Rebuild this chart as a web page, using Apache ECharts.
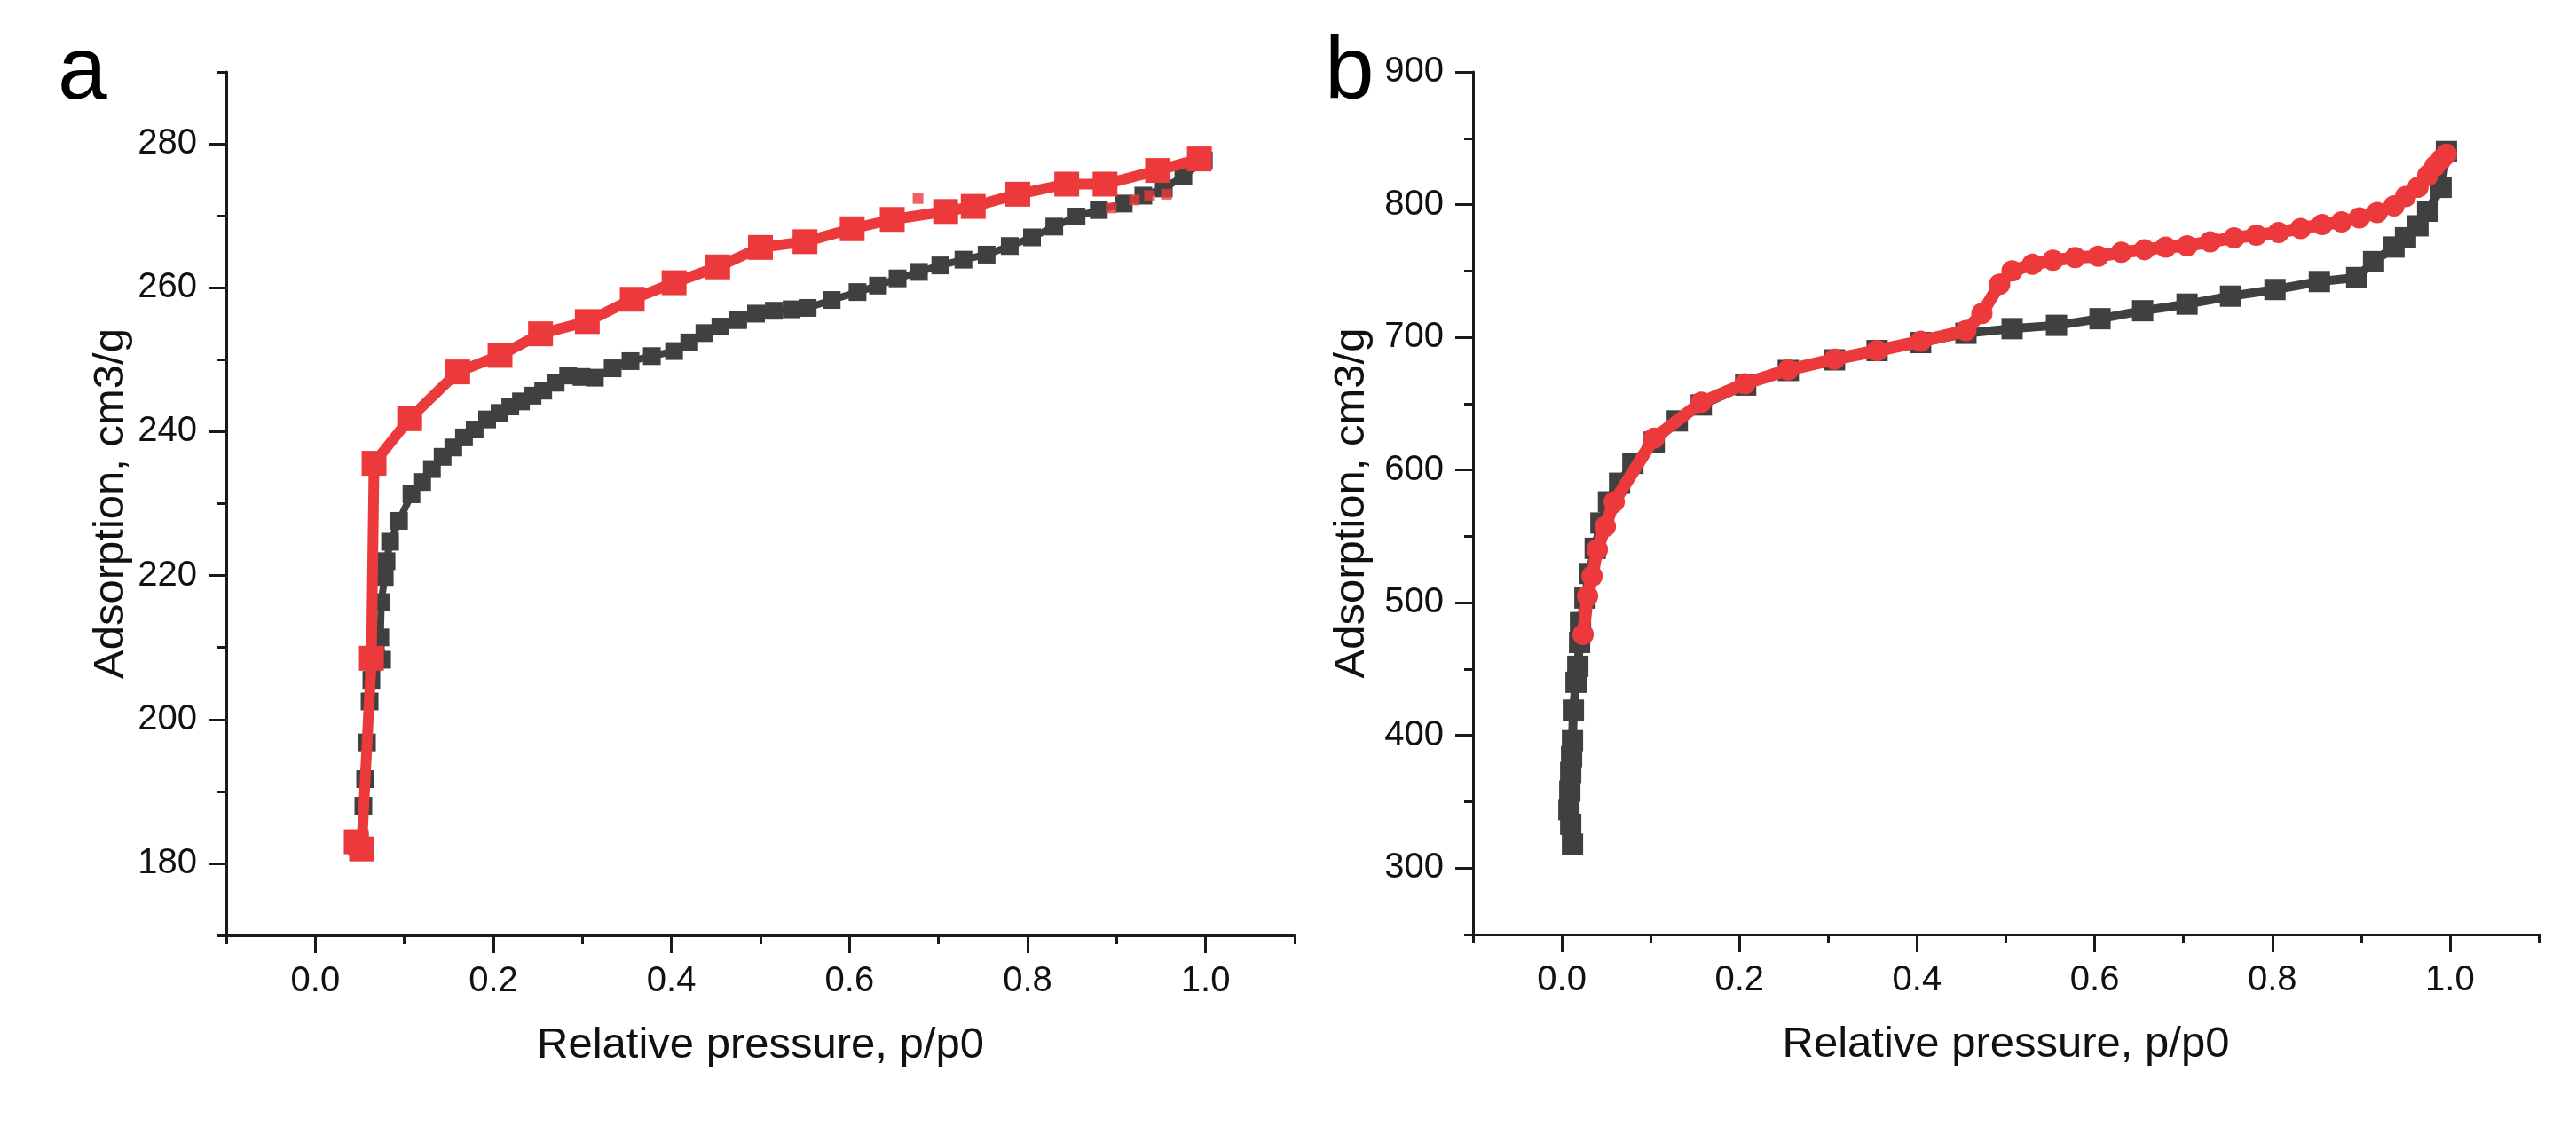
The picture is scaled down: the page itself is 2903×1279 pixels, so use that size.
<!DOCTYPE html>
<html>
<head>
<meta charset="utf-8">
<script src="https://cdn.jsdelivr.net/npm/echarts@6/dist/echarts.min.js"></script>
<style>
html,body{margin:0;padding:0;background:#fff;}
#c{width:2903px;height:1279px;}
</style>
</head>
<body>
<div id="c"></div>
<script>
// ---- data (x = relative pressure p/p0, y = adsorption cm3/g) ----
const grayA = [
[0.047,182.3],[0.050,183.0],[0.054,188],[0.056,191.7],[0.058,196.8],[0.061,202.5],[0.063,205.5],
[0.075,208.3],[0.073,211.4],[0.074,216.3],[0.078,219.8],[0.080,222],[0.084,224.7],[0.094,227.6],
[0.108,231.3],[0.120,233],[0.131,234.8],[0.143,236.5],[0.155,237.8],[0.167,239.2],[0.179,240.3],
[0.193,241.7],[0.207,242.6],[0.219,243.5],[0.231,244.2],[0.244,245],[0.256,245.7],[0.270,246.8],
[0.284,247.8],[0.299,247.6],[0.314,247.5],[0.334,248.8],[0.354,249.8],[0.378,250.5],[0.403,251.2],
[0.420,252.4],[0.437,253.7],[0.455,254.6],[0.475,255.5],[0.495,256.4],[0.515,256.8],[0.535,257],
[0.553,257.2],[0.580,258.3],[0.609,259.4],[0.632,260.3],[0.654,261.3],[0.678,262.2],[0.702,263.1],
[0.728,263.9],[0.754,264.6],[0.780,265.8],[0.805,267],[0.830,268.5],[0.855,269.9],[0.880,270.8],
[0.908,271.7],[0.930,272.8],[0.953,273.8],[0.975,275.5],[0.998,277.7]
];
const redA = [
[0.993,277.9],[0.946,276.3],[0.887,274.4],[0.844,274.4],[0.789,273.0],[0.739,271.3],[0.708,270.6],
[0.648,269.5],[0.603,268.2],[0.550,266.4],[0.500,265.6],[0.452,262.9],[0.403,260.7],[0.356,258.4],
[0.3055,255.3],[0.253,253.6],[0.2075,250.6],[0.160,248.3],[0.106,241.8],[0.066,235.6],[0.063,208.5],
[0.052,182.0],[0.046,183.0]
];
const redDotsA = [[0.677,272.4],[0.894,271.1],[0.920,272.2],[0.937,272.8],[0.956,273.0]];

const grayB = [
[0.012,318],[0.010,333],[0.008,344],[0.009,358],[0.010,372],[0.011,384],[0.012,396],[0.013,419],
[0.016,440],[0.018,452],[0.020,470],[0.021,485],[0.026,503.5],[0.031,522],[0.0376,541],[0.044,560],
[0.0526,576],[0.065,590],[0.080,605],[0.104,621],[0.130,637],[0.157,649],[0.207,664],[0.255,675],
[0.307,683],[0.355,690],[0.404,696],[0.455,703],[0.507,706.5],[0.557,709],[0.606,714],[0.654,720],
[0.704,725],[0.753,731],[0.803,736],[0.853,742],[0.895,745],[0.914,757],[0.937,768],[0.950,775],
[0.964,784],[0.975,795],[0.990,813],[0.996,840]
];
const redB = [
[0.996,838],[0.990,834],[0.983,829],[0.975,822],[0.964,813],[0.950,806],[0.937,799],[0.918,794],
[0.898,790],[0.878,787],[0.856,785],[0.832,782],[0.807,779],[0.782,777],[0.757,775],[0.730,772],
[0.704,769],[0.680,768],[0.656,766],[0.630,764],[0.604,761],[0.578,760],[0.553,758],[0.530,755],
[0.507,750],[0.493,740],[0.473,718],[0.455,705],[0.404,697],[0.355,690],[0.307,683.5],[0.255,675.5],
[0.206,665],[0.157,651],[0.104,624],[0.059,576],[0.049,557.5],[0.040,540],[0.034,520],[0.029,505],
[0.024,476]
];

// ---- tick positions ----
const xMajor = [0, 0.2, 0.4, 0.6, 0.8, 1.0];
const xMinor = [-0.1, 0.1, 0.3, 0.5, 0.7, 0.9, 1.1];
const yMajorA = [180, 200, 220, 240, 260, 280];
const yMinorA = [170, 190, 210, 230, 250, 270, 290];
const yMajorB = [300, 400, 500, 600, 700, 800, 900];
const yMinorB = [250, 350, 450, 550, 650, 750, 850];

const FONT = '"Liberation Sans", Arial, sans-serif';
const AX = '#1a1a1a';
const RED = '#EC3A3C';
const GRAY = '#404040';

function majorX(grid, gap) {
  return {
    type: 'value', gridIndex: grid, min: -0.1, max: 1.1, position: 'bottom',
    name: 'Relative pressure, p/p0', nameLocation: 'middle', nameGap: gap,
    nameTextStyle: {fontFamily: FONT, fontSize: 49, color: '#111'},
    axisLine: {show: true, onZero: false, lineStyle: {color: AX, width: 3}},
    axisTick: {show: true, length: 20, lineStyle: {color: AX, width: 3}, customValues: xMajor},
    axisLabel: {show: true, margin: 32, fontFamily: FONT, fontSize: 40, color: '#111',
      customValues: xMajor, formatter: v => Number(v).toFixed(1)},
    splitLine: {show: false}
  };
}
function minorX(grid) {
  return {
    type: 'value', gridIndex: grid, min: -0.1, max: 1.1, position: 'bottom',
    axisLine: {show: false, onZero: false},
    axisTick: {show: true, length: 10, lineStyle: {color: AX, width: 3}, customValues: xMinor},
    axisLabel: {show: false, customValues: xMinor},
    splitLine: {show: false}
  };
}
function majorY(grid, min, max, vals, gap) {
  return {
    type: 'value', gridIndex: grid, min: min, max: max, position: 'left',
    name: 'Adsorption, cm3/g', nameLocation: 'middle', nameGap: gap,
    nameTextStyle: {fontFamily: FONT, fontSize: 49, color: '#111'},
    axisLine: {show: true, onZero: false, lineStyle: {color: AX, width: 3}},
    axisTick: {show: true, length: 20, lineStyle: {color: AX, width: 3}, customValues: vals},
    axisLabel: {show: true, margin: 33, fontFamily: FONT, fontSize: 40, color: '#111', customValues: vals},
    splitLine: {show: false}
  };
}
function minorY(grid, min, max, vals) {
  return {
    type: 'value', gridIndex: grid, min: min, max: max, position: 'left',
    axisLine: {show: false, onZero: false},
    axisTick: {show: true, length: 10, lineStyle: {color: AX, width: 3}, customValues: vals},
    axisLabel: {show: false, customValues: vals},
    splitLine: {show: false}
  };
}

const chart = echarts.init(document.getElementById('c'), null, {renderer: 'canvas'});
chart.setOption({
  animation: false,
  backgroundColor: '#fff',
  title: [
    {text: 'a', left: 60, top: 28, textStyle: {fontFamily: FONT, fontSize: 100, fontWeight: 'normal', color: '#000'}},
    {text: 'b', left: 1488, top: 28, textStyle: {fontFamily: FONT, fontSize: 100, fontWeight: 'normal', color: '#000'}}
  ],
  grid: [
    {left: 255, top: 81, width: 1204, height: 973},
    {left: 1660, top: 81, width: 1201, height: 972}
  ],
  xAxis: [majorX(0, 100), minorX(0), majorX(1, 100), minorX(1)],
  yAxis: [majorY(0, 170, 290, yMajorA, 105), minorY(0, 170, 290, yMinorA),
          majorY(1, 250, 900, yMajorB, 112), minorY(1, 250, 900, yMinorB)],
  series: [
    {type: 'line', xAxisIndex: 0, yAxisIndex: 0, data: grayA, symbol: 'rect', symbolSize: 20,
      itemStyle: {color: GRAY}, lineStyle: {color: GRAY, width: 8}, z: 2},
    {type: 'line', xAxisIndex: 0, yAxisIndex: 0, data: redA, symbol: 'rect', symbolSize: 28,
      itemStyle: {color: RED}, lineStyle: {color: RED, width: 12}, z: 3},
    {type: 'scatter', xAxisIndex: 0, yAxisIndex: 0, data: redDotsA, symbol: 'rect', symbolSize: 12,
      itemStyle: {color: RED}, z: 3},
    {type: 'line', xAxisIndex: 2, yAxisIndex: 2, data: grayB, symbol: 'rect', symbolSize: 24,
      itemStyle: {color: GRAY}, lineStyle: {color: GRAY, width: 10}, z: 2},
    {type: 'line', xAxisIndex: 2, yAxisIndex: 2, data: redB, symbol: 'circle', symbolSize: 24,
      itemStyle: {color: RED}, lineStyle: {color: RED, width: 14}, z: 3}
  ]
});
</script>
</body>
</html>
